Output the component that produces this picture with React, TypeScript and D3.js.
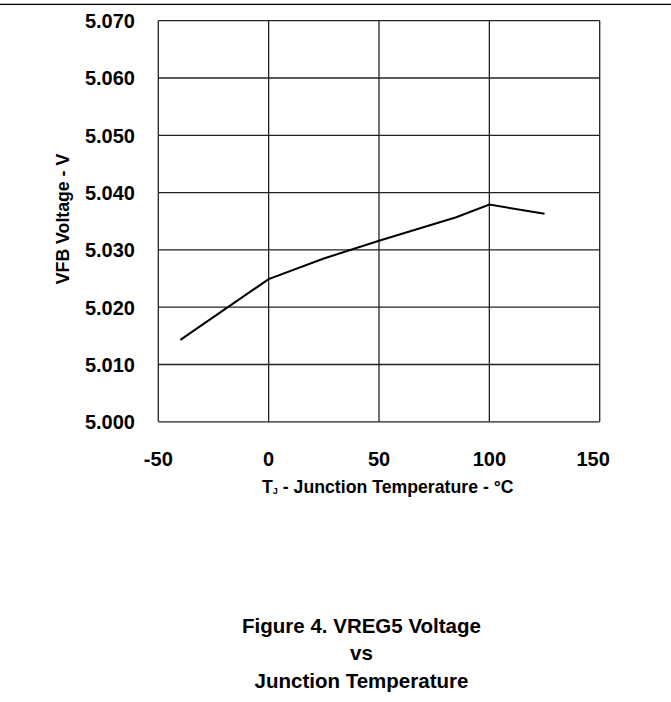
import React, { useEffect, useRef } from 'react';
import * as d3 from 'd3';

// Junction temperature (°C) and VFB voltage (V)
const TEMPS = [-40, 0, 25, 50, 85, 100, 125];
const VOLTS = [5.0143, 5.0249, 5.0285, 5.0316, 5.0357, 5.0379, 5.0363];

const X_TICKS = [-50, 0, 50, 100, 150];
const Y_TICKS = [5.0, 5.01, 5.02, 5.03, 5.04, 5.05, 5.06, 5.07];

const CAPTION = ['Figure 4. VREG5 Voltage', 'vs', 'Junction Temperature'];

const FONT = 'Liberation Sans, Arial, Helvetica, sans-serif';

const App: React.FC = () => {
  const svgRef = useRef<SVGSVGElement>(null);

  useEffect(() => {
    if (!svgRef.current) return;
    const svg = d3.select(svgRef.current);
    svg.selectAll('*').remove();

    const W = 671;
    const H = 702;
    const plot = { left: 158.3, right: 599.7, top: 20.7, bottom: 421.8 };

    svg.attr('width', W).attr('height', H);

    const x = d3.scaleLinear().domain([-50, 150]).range([plot.left, plot.right]);
    const y = d3.scaleLinear().domain([5.0, 5.07]).range([plot.bottom, plot.top]);

    // rule across the top of the page
    svg.append('line')
      .attr('x1', 0).attr('x2', W)
      .attr('y1', 4.3).attr('y2', 4.3)
      .attr('stroke', '#000')
      .attr('stroke-width', 1.3);

    // grid
    svg.selectAll('.hgrid')
      .data(Y_TICKS)
      .enter()
      .append('line')
      .attr('x1', plot.left).attr('x2', plot.right)
      .attr('y1', d => y(d)).attr('y2', d => y(d))
      .attr('stroke', '#222')
      .attr('stroke-width', 1.3);

    svg.selectAll('.vgrid')
      .data(X_TICKS)
      .enter()
      .append('line')
      .attr('x1', d => x(d)).attr('x2', d => x(d))
      .attr('y1', plot.top).attr('y2', plot.bottom)
      .attr('stroke', '#222')
      .attr('stroke-width', 1.3);

    // tick labels
    svg.selectAll('.ylab')
      .data(Y_TICKS)
      .enter()
      .append('text')
      .attr('x', 135)
      .attr('y', d => y(d) + 7.4)
      .attr('text-anchor', 'end')
      .attr('font-family', FONT)
      .attr('font-weight', 'bold')
      .attr('font-size', 20)
      .text(d => d3.format('.3f')(d));

    // the last x label sits a little inside the plot edge, as in the original
    svg.selectAll('.xlab')
      .data(X_TICKS)
      .enter()
      .append('text')
      .attr('x', (d, i) => x(d) - (i === X_TICKS.length - 1 ? 6.5 : 0))
      .attr('y', 466)
      .attr('text-anchor', 'middle')
      .attr('font-family', FONT)
      .attr('font-weight', 'bold')
      .attr('font-size', 20)
      .text(d => d);

    // axis titles
    svg.append('text')
      .attr('transform', 'translate(69,219) rotate(-90)')
      .attr('text-anchor', 'middle')
      .attr('font-family', FONT)
      .attr('font-weight', 'bold')
      .attr('font-size', 17.7)
      .text('VFB Voltage - V');

    const xt = svg.append('text')
      .attr('x', 262)
      .attr('y', 493)
      .attr('font-family', FONT)
      .attr('font-weight', 'bold')
      .attr('font-size', 17.7);
    xt.append('tspan').text('T');
    xt.append('tspan').attr('font-size', 9).attr('dy', 1).text('J');
    xt.append('tspan').attr('dy', -1).text(' - Junction Temperature - °C');

    // data line
    const line = d3.line<number>()
      .x((d, i) => x(TEMPS[i]))
      .y(d => y(d));

    svg.append('path')
      .datum(VOLTS)
      .attr('d', line)
      .attr('fill', 'none')
      .attr('stroke', '#000')
      .attr('stroke-width', 2);

    // caption
    svg.selectAll('.caption')
      .data(CAPTION)
      .enter()
      .append('text')
      .attr('x', 361.5)
      .attr('y', (d, i) => 632.7 + i * 27.6)
      .attr('text-anchor', 'middle')
      .attr('font-family', FONT)
      .attr('font-weight', 'bold')
      .attr('font-size', 20.5)
      .text(d => d);
  }, []);

  return (
    <div style={{ position: 'absolute', left: 0, top: 0, background: '#fff' }}>
      <svg ref={svgRef} style={{ display: 'block' }}></svg>
    </div>
  );
};

export default App;
